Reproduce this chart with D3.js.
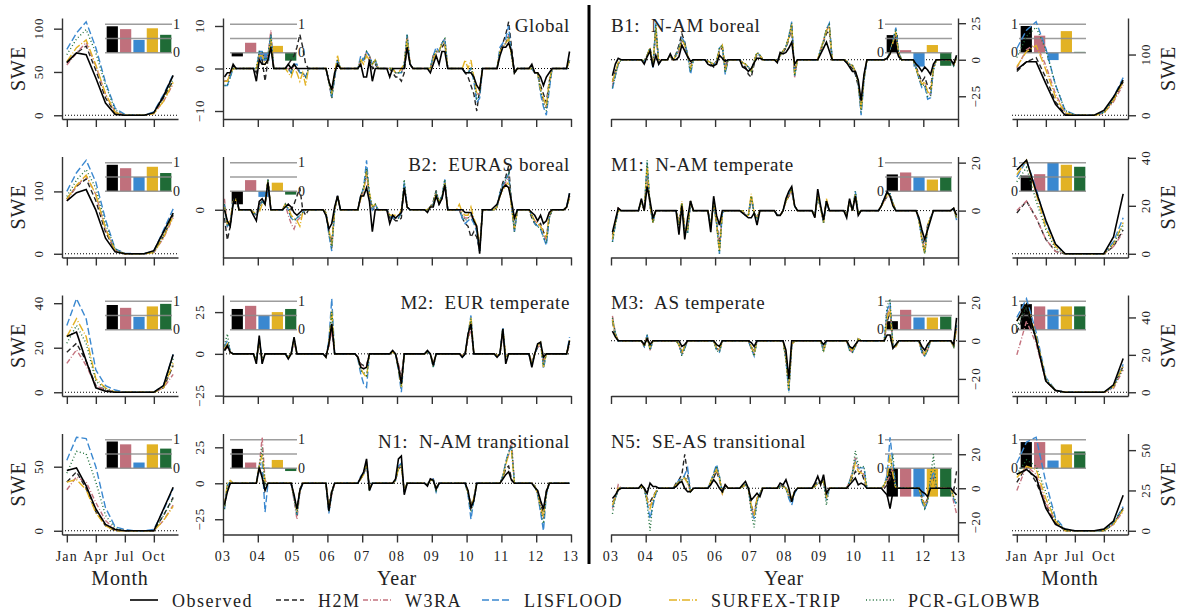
<!DOCTYPE html>
<html>
<head>
<meta charset="utf-8">
<script src="https://d3js.org/d3.v7.min.js"></script>
<style>
body { margin: 0; background: #fff; }
text { font-family: "Liberation Serif", "DejaVu Serif", serif; fill: #222; }
</style>
</head>
<body>
<script>
// series order everywhere: Observed, H2M, W3RA, LISFLOOD, SURFEX-TRIP, PCR-GLOBWB
const seriesNames = ["Observed", "H2M", "W3RA", "LISFLOOD", "SURFEX-TRIP", "PCR-GLOBWB"];
const seriesColors = ["#000000", "#262626", "#c4737f", "#3a88d0", "#e2b224", "#1f6f3a"];
const seriesDash = [null, "5,3", "5,2,1,2", "7,3", "8,2,1,2", "1,2.4"];
const barColors = ["#000000", "#c0707c", "#3a88d0", "#e2b224", "#1f6b36"];

const monthTicks = [1, 4, 7, 10];
const monthLabels = ["Jan", "Apr", "Jul", "Oct"];
const yearTicks = [2003, 2004, 2005, 2006, 2007, 2008, 2009, 2010, 2011, 2012, 2013];
const yearLabels = ["03", "04", "05", "06", "07", "08", "09", "10", "11", "12", "13"];

const regionTitles = ["Global", "B2:  EURAS boreal", "M2:  EUR temperate", "N1:  N-AM transitional",
                      "B1:  N-AM boreal", "M1:  N-AM temperate", "M3:  AS temperate", "N5:  SE-AS transitional"];

// mean seasonal cycle (Jan..Dec)
const seasGlobal = [
  [61,72,70,43,14,1,0,0,0,3,22,46],
  [60,72,80,52,20,3,0,0,0,3,20,40],
  [58,72,84,57,24,4,0,0,0,2,16,36],
  [76,95,108,78,38,8,1,0,0,4,24,47],
  [62,78,87,58,25,3,0,0,0,2,16,38],
  [70,88,99,72,35,6,0,0,0,3,20,42]];
const seasB2 = [
  [85,98,103,70,25,3,0,0,0,5,35,65],
  [88,108,120,85,35,5,0,0,0,3,28,62],
  [85,108,125,95,40,6,0,0,0,2,25,58],
  [100,130,150,115,55,8,1,0,0,4,38,72],
  [88,110,126,95,40,5,0,0,0,2,27,60],
  [92,118,135,105,48,8,0,0,0,3,30,65]];
const seasM2 = [
  [25,27,14,2,0.5,0,0,0,0,0,3,17],
  [18,22,14,3,1,0,0,0,0,0,2,12],
  [13,19,12,3,1,0,0,0,0,0,2,8],
  [30,42,33,10,3,1,0,0,0,0,3,17],
  [25,33,25,6,2,0,0,0,0,0,2,13],
  [22,30,22,5,1.5,0,0,0,0,0,3,15]];
const seasN1 = [
  [47,49,35,17,5,1,0,0,0,0,17,34],
  [38,46,33,15,4,0,0,0,0,0,12,26],
  [32,42,38,22,8,1,0,0,0,0,8,20],
  [55,73,72,50,18,3,1,0,0,1,16,33],
  [38,40,32,14,4,0,0,0,0,0,8,19],
  [45,62,60,38,12,2,0,0,0,0,12,25]];
const seasB1 = [
  [75,88,88,52,18,0,0,0,0,8,30,58],
  [72,88,95,62,22,2,0,0,0,5,25,55],
  [78,108,118,82,35,5,0,0,0,3,22,50],
  [110,140,154,110,50,8,1,0,0,5,30,62],
  [80,105,115,75,30,4,0,0,0,3,25,55],
  [95,130,145,108,50,8,0,0,0,4,27,58]];
const seasM1 = [
  [35,39,26,14,4,0,0,0,0,0,7,25],
  [17,22,15,6,1,0,0,0,0,0,3,10],
  [18,22,15,6,1,0,0,0,0,0,3,9],
  [32,39,27,13,4,0,0,0,0,0,5,15],
  [33,39,25,11,3,0,0,0,0,0,4,13],
  [30,36,22,10,2,0,0,0,0,0,4,12]];
const seasM3 = [
  [38,47,28,6,1,0,0,0,0,0,4,18],
  [32,45,28,6,1,0,0,0,0,0,3,14],
  [20,38,26,6,1,0,0,0,0,0,2,12],
  [40,50,32,8,1,0,0,0,0,0,3,15],
  [38,47,30,7,1,0,0,0,0,0,3,14],
  [35,46,29,7,1,0,0,0,0,0,3,13]];
const seasN5 = [
  [35,38,33,14,4,1,0,0,0,1,6,22],
  [30,40,30,16,5,0,0,0,0,0,4,14],
  [25,40,35,17,6,0,0,0,0,0,4,12],
  [42,55,58,30,8,1,0,0,0,0,5,15],
  [33,40,38,20,6,0,0,0,0,0,4,13],
  [35,44,40,24,7,0,0,0,0,0,5,14]];

// monthly anomalies Jan 2003 .. Dec 2012
const tsGlobal = [
  [-2,-1,-1,1,0,0,0,0,0,0,0,-3, 2,1,1,2,5,0,0,0,0,0,1,0, 1,0,0,0,0,0,0,0,0,0,0,0, -3,-5,-1,1,0,0,0,0,0,0,0,1, -2,-2,2,-3,0,0,0,0,0,-2,0,0, 0,0,0,5,1,0,0,0,0,0,0,-1, 1,3,1,4,4,0,0,0,0,0,0,-1, -1,-1,-2,-4,-5,0,0,0,0,0,0,3, 5,5,6,4,-1,0,0,0,0,0,1,-1, -1,-2,-4,-2,-1,0,0,0,0,0,0,4],
  [-3,-3,-1,0,0,0,0,0,0,0,0,-1, 3,2,-3,2,6,0,0,0,0,0,1,2, 3,5,8,5,1,0,0,0,0,0,0,0, -3,-6,-2,2,0,0,0,0,0,0,0,2, 2,3,2,0,1,0,0,0,0,0,-1,-2, -2,-3,-1,6,1,0,0,0,0,0,0,0, 3,4,4,5,6,0,0,0,0,0,0,-1, -2,-4,-6,-10,-5,0,0,0,0,0,0,4, 6,8,11,5,-1,0,0,0,0,0,0,-1, -1,-4,-6,-8,-3,0,0,0,0,0,0,2],
  [-3,-3,-1,0,0,0,0,0,0,0,0,0, 3,4,2,3,9,0,0,0,0,0,0,-1, 1,0,-1,-1,-2,0,0,0,0,0,0,0, -3,-7,-2,2,0,0,0,0,0,0,0,2, 2,4,3,1,2,0,0,0,0,0,0,-1, -1,-1,1,8,1,0,0,0,0,0,0,0, 3,4,4,6,7,0,0,0,0,0,0,-1, -1,0,-2,-6,-6,0,0,0,0,0,0,4, 5,6,8,3,-1,0,0,0,0,0,0,-1, -1,-5,-8,-9,-4,0,0,0,0,0,0,2],
  [-4,-4,-2,0,0,0,0,0,0,0,0,0, 4,4,2,3,8,0,0,0,0,0,0,-1, 1,1,-1,-1,-2,0,0,0,0,0,0,0, -3,-7,-2,2,0,0,0,0,0,0,0,3, 2,4,3,1,2,0,0,0,0,0,0,-1, -1,-1,1,8,1,0,0,0,0,0,0,0, 3,5,4,6,7,0,0,0,0,0,0,-1, -1,0,-3,-8,-7,0,0,0,0,0,0,5, 6,7,10,3,-1,0,0,0,0,0,0,-1, -1,-6,-9,-11,-5,0,0,0,0,0,0,2],
  [-3,-3,-1,0,0,0,0,0,0,0,0,0, 3,3,1,2,7,0,0,0,0,0,-1,-2, 0,-1,-3,-1,-4,0,0,0,0,0,0,0, -3,-6,-1,3,0,0,0,0,0,0,0,2, 1,3,2,1,2,0,0,0,0,0,0,-1, -1,0,1,7,1,0,0,0,0,0,0,0, 2,4,4,6,6,0,0,0,0,0,0,2, 0,2,-2,-6,-5,0,0,0,0,0,0,4, 5,6,7,3,-1,0,0,0,0,0,0,-1, -1,-5,-7,-9,-3,0,0,0,0,0,0,2],
  [-4,-4,-2,0,0,0,0,0,0,0,0,0, 4,4,2,3,8,0,0,0,0,0,0,-1, 1,0,-1,-1,-2,0,0,0,0,0,0,0, -3,-7,-2,2,0,0,0,0,0,0,0,2, 2,4,3,1,2,0,0,0,0,0,0,-1, -1,-1,1,8,1,0,0,0,0,0,0,0, 3,4,4,6,7,0,0,0,0,0,0,-1, -1,0,-2,-7,-6,0,0,0,0,0,0,4, 5,6,8,3,-1,0,0,0,0,0,0,-1, -1,-5,-8,-10,-4,0,0,0,0,0,0,2]];
const tsB2 = [
  [0,-4,-6,2,6,0,0,0,0,0,-2,-4, 3,4,2,10,0,0,0,0,0,1,2,1, -1,-2,-1,0,0,0,0,0,0,0,0,-2, -7,-5,1,5,0,0,0,0,0,0,0,5, 5,8,3,-8,0,0,0,0,0,-5,-2,-3, -2,-1,8,1,0,0,0,0,0,0,-1,1, 1,5,2,4,9,0,0,0,0,0,0,-1, -1,-1,-4,-6,-16,0,0,0,0,1,2,5, 8,9,8,3,-3,0,0,0,0,0,-1,-2, -4,-2,-5,-4,-1,0,0,0,0,0,1,6],
  [-3,-11,-6,3,5,0,0,0,0,0,-1,-2, 2,3,2,11,0,0,0,0,0,1,2,0, 2,5,8,0,-2,0,0,0,0,0,0,-1, -8,-12,0,5,0,0,0,0,0,0,0,5, 8,14,5,0,1,0,0,0,0,-3,-3,-4, -4,-3,9,1,0,0,0,0,0,0,0,1, 3,7,2,4,10,0,0,0,0,0,-3,-5, -6,-10,-8,-10,-15,0,0,0,0,0,1,6, 10,12,16,2,-7,0,0,0,0,0,-3,-5, -6,-5,-8,-10,-3,0,0,0,0,0,1,5],
  [4,-6,-4,3,4,0,0,0,0,0,-1,-2, 1,3,2,10,0,0,0,0,0,2,-2,-5, -7,-4,-3,-1,0,0,0,0,0,0,0,-1, -8,-14,0,5,0,0,0,0,0,0,0,4, 7,13,4,0,2,0,0,0,0,-2,-3,-3, -3,-1,9,1,0,0,0,0,0,0,0,1, 2,6,3,4,10,0,0,0,0,0,-2,-3, -3,-2,-4,-7,-14,0,0,0,0,0,1,5, 8,10,12,1,-8,0,0,0,0,0,-2,-4, -5,-6,-9,-11,-2,0,0,0,0,0,1,5],
  [2,-6,-5,3,5,0,0,0,0,0,-1,-2, 1,3,2,11,0,0,0,0,0,2,0,-3, -4,-3,-2,-1,0,0,0,0,0,0,0,-1, -9,-15,0,5,0,0,0,0,0,0,0,5, 8,18,5,0,2,0,0,0,0,-2,-3,-3, -3,-1,10,1,0,0,0,0,0,0,0,1, 2,6,3,5,11,0,0,0,0,0,-3,-5, -4,-3,-5,-8,-15,0,0,0,0,0,1,6, 9,11,13,2,-8,0,0,0,0,0,-2,-5, -6,-7,-10,-13,-3,0,0,0,0,0,1,6],
  [1,-5,-4,3,4,0,0,0,0,0,-1,-1, -1,2,2,11,0,0,0,0,0,2,1,-2, -3,-4,-6,-1,0,0,0,0,0,0,0,-1, -7,-13,0,5,0,0,0,0,0,0,0,4, 7,14,6,1,2,0,0,0,0,-2,-2,-2, -2,0,8,1,0,0,0,0,0,0,0,1, 2,6,3,4,10,0,0,0,0,2,-1,-2, -2,1,-3,-6,-14,0,0,0,0,0,1,5, 7,9,10,1,-7,0,0,0,0,0,-2,-4, -5,-6,-8,-10,-2,0,0,0,0,0,1,4],
  [2,-6,-5,3,5,0,0,0,0,0,-1,-2, 1,3,2,11,0,0,0,0,0,2,0,-3, -4,-3,-2,-1,0,0,0,0,0,0,0,-1, -8,-14,0,5,0,0,0,0,0,0,0,5, 8,15,6,1,2,0,0,0,0,-2,-3,-3, -3,-1,11,1,0,0,0,0,0,0,0,1, 2,7,3,5,11,0,0,0,0,0,-2,-4, -3,-2,-4,-7,-15,0,0,0,0,0,1,6, 9,11,13,2,-8,0,0,0,0,0,-2,-5, -6,-7,-10,-12,-3,0,0,0,0,0,1,5]];
const tsM2 = [
  [2,5,1,0,0,0,0,0,0,0,0,-6, 11,-6,0,0,0,0,0,0,0,0,-3,0, 10,0,0,0,0,0,0,0,0,0,0,-2, 6,18,0,0,0,0,0,0,0,0,-2,-8, -9,-8,0,0,0,0,0,0,0,0,2,0, -8,-18,0,0,0,0,0,0,0,0,2,0, -7,0,0,0,0,0,0,0,0,0,-2,0, 12,18,0,0,0,0,0,0,0,0,-2,0, 15,-6,0,0,0,0,0,0,0,0,-8,0, 6,7,-2,0,0,0,0,0,0,0,0,8],
  [2,4,1,0,0,0,0,0,0,0,0,-4, 8,-4,0,0,0,0,0,0,0,0,-2,0, 8,0,0,0,0,0,0,0,0,0,0,-2, 5,16,0,0,0,0,0,0,0,0,-2,-6, -7,-7,0,0,0,0,0,0,0,0,1,0, -7,-15,0,0,0,0,0,0,0,0,1,0, -6,0,0,0,0,0,0,0,0,0,-1,0, 10,16,0,0,0,0,0,0,0,0,-1,0, 13,-2,0,0,0,0,0,0,0,0,-6,0, 4,6,-4,0,0,0,0,0,0,0,0,6],
  [3,4,1,0,0,0,0,0,0,0,0,-3, 7,-3,0,0,0,0,0,0,0,0,-2,0, 7,0,0,0,0,0,0,0,0,0,0,-1, 4,14,0,0,0,0,0,0,0,0,-2,-7, -8,-7,0,0,0,0,0,0,0,0,1,0, -6,-14,0,0,0,0,0,0,0,0,1,0, -5,0,0,0,0,0,0,0,0,0,-1,0, 9,15,0,0,0,0,0,0,0,0,-1,0, 12,-1,0,0,0,0,0,0,0,0,-5,0, 4,5,-5,0,0,0,0,0,0,0,0,6],
  [4,8,2,0,0,0,0,0,0,0,0,-4, 9,-4,0,0,0,0,0,0,0,0,-2,0, 9,0,0,0,0,0,0,0,0,0,0,-2, 8,33,0,0,0,0,0,0,0,0,-3,-12, -18,-20,0,0,0,0,0,0,0,0,1,0, -10,-23,0,0,0,0,0,0,0,0,1,0, -8,0,0,0,0,0,0,0,0,0,-2,0, 12,23,0,0,0,0,0,0,0,0,-2,0, 16,-2,0,0,0,0,0,0,0,0,-7,0, 5,7,-9,0,0,0,0,0,0,0,0,10],
  [3,6,1,0,0,0,0,0,0,0,0,-4, 8,-4,0,0,0,0,0,0,0,0,-2,0, 9,0,0,0,0,0,0,0,0,0,0,-2, 6,26,0,0,0,0,0,0,0,0,-2,-9, -12,-14,0,0,0,0,0,0,0,0,1,0, -9,-20,0,0,0,0,0,0,0,0,1,0, -7,0,0,0,0,0,0,0,0,0,-1,0, 11,22,0,0,0,0,0,0,0,0,-1,0, 15,-2,0,0,0,0,0,0,0,0,-6,0, 5,7,-8,0,0,0,0,0,0,0,0,8],
  [5,12,1,0,0,0,0,0,0,0,0,-3, 8,-3,0,0,0,0,0,0,0,0,-2,0, 9,0,0,0,0,0,0,0,0,0,0,-2, 6,25,0,0,0,0,0,0,0,0,-2,-10, -11,-13,0,0,0,0,0,0,0,0,1,0, -9,-19,0,0,0,0,0,0,0,0,1,0, -8,0,0,0,0,0,0,0,0,0,-2,0, 11,21,0,0,0,0,0,0,0,0,-1,0, 15,-2,0,0,0,0,0,0,0,0,-6,0, 5,6,-7,0,0,0,0,0,0,0,0,7]];
const tsN1 = [
  [-15,-6,0,0,0,0,0,0,0,0,0,0, 11,4,-5,0,0,0,0,0,0,0,0,0, -8,-18,-5,0,0,0,0,0,0,0,0,0, -19,-6,0,0,0,0,0,0,0,0,0,4, 8,17,-5,0,0,0,0,0,0,0,0,3, 17,19,-8,0,0,0,0,0,0,0,-2,3, 2,-4,0,0,0,0,0,0,0,0,0,0, -5,-17,-12,0,0,0,0,0,0,0,0,0, 3,6,8,2,0,0,0,0,0,0,0,-3, -5,-12,-18,-6,0,0,0,0,0,0,0,0],
  [-14,-4,0,0,0,0,0,0,0,0,0,0, 9,8,-2,0,0,0,0,0,0,0,0,0, -10,-18,-4,0,0,0,0,0,0,0,0,0, -16,-5,0,0,0,0,0,0,0,0,0,3, 6,13,-3,0,0,0,0,0,0,0,0,2, 10,12,-5,0,0,0,0,0,0,0,-1,2, 2,-3,0,0,0,0,0,0,0,0,0,0, -6,-15,-10,0,0,0,0,0,0,0,0,0, 4,10,12,3,0,0,0,0,0,0,0,-2, -6,-15,-20,-5,0,0,0,0,0,0,0,0],
  [-17,-3,1,0,0,0,0,0,0,0,0,0, 12,32,2,0,0,0,0,0,0,0,0,0, -12,-25,-6,0,0,0,0,0,0,0,0,0, -20,-8,0,0,0,0,0,0,0,0,0,4, 7,15,-4,0,0,0,0,0,0,0,0,2, 11,13,-6,0,0,0,0,0,0,0,-1,2, 3,-5,0,0,0,0,0,0,0,0,0,0, -7,-18,-12,0,0,0,0,0,0,0,0,0, 5,14,20,30,0,0,0,0,0,0,0,-2, -7,-18,-25,-8,0,0,0,0,0,0,0,0],
  [-18,-2,2,0,0,0,0,0,0,0,0,0, 12,15,-20,0,0,0,0,0,0,0,0,0, -10,-22,-6,0,0,0,0,0,0,0,0,0, -21,-7,0,0,0,0,0,0,0,0,0,5, 7,14,-5,0,0,0,0,0,0,0,0,2, 12,14,-6,0,0,0,0,0,0,0,-1,2, 3,-6,0,0,0,0,0,0,0,0,0,0, -8,-25,-12,0,0,0,0,0,0,0,0,0, 5,15,22,25,0,0,0,0,0,0,0,-2, -8,-20,-33,-8,0,0,0,0,0,0,0,0],
  [-16,0,2,0,0,0,0,0,0,0,0,0, 12,20,1,0,0,0,0,0,0,0,0,0, -9,-20,-5,0,0,0,0,0,0,0,0,0, -18,-6,0,0,0,0,0,0,0,0,0,3, 6,13,-4,0,0,0,0,0,0,0,0,2, 10,12,-5,0,0,0,0,0,0,0,-1,2, 2,-4,0,0,0,0,0,0,0,0,0,0, -6,-17,-10,0,0,0,0,0,0,0,0,0, 4,13,20,22,0,0,0,0,0,0,0,-2, -7,-16,-24,-6,0,0,0,0,0,0,0,0],
  [-18,-1,1,0,0,0,0,0,0,0,0,0, 12,25,-2,0,0,0,0,0,0,0,0,0, -10,-22,-5,0,0,0,0,0,0,0,0,0, -20,-7,0,0,0,0,0,0,0,0,0,4, 7,15,-4,0,0,0,0,0,0,0,0,2, 11,13,-6,0,0,0,0,0,0,0,-1,2, 3,-5,0,0,0,0,0,0,0,0,0,0, -7,-20,-12,0,0,0,0,0,0,0,0,0, 5,14,22,26,0,0,0,0,0,0,0,-2, -7,-18,-28,-7,0,0,0,0,0,0,0,0]];
const tsB1 = [
  [-11,-3,1,0,0,0,0,0,0,0,0,-3, 2,6,-5,3,-3,0,0,0,4,0,0,2, 10,6,2,-1,0,0,0,0,0,-3,-4,-4, -3,3,1,-1,0,0,0,0,0,-5,-6,-8, -6,-2,1,1,0,0,0,0,0,-2,5,4, 5,8,12,-3,0,0,0,0,0,0,0,0, 4,8,12,6,0,0,0,0,0,-2,-5,-8, -8,-14,-28,-10,0,0,0,0,0,0,0,1, 4,10,8,2,0,0,0,0,0,-3,-5,-8, -5,-7,-10,-3,0,0,0,0,0,0,-3,3],
  [-15,-8,-3,0,0,0,0,0,0,0,0,-2, 3,8,-3,20,-2,0,0,0,2,0,4,10, 18,12,3,-3,0,0,0,0,0,-2,-3,-5, -2,6,8,-5,0,0,0,0,0,-4,-5,-10, -12,-3,4,3,0,0,0,0,0,-1,3,5, 8,14,22,-8,0,0,0,0,0,0,0,0, 6,12,18,20,0,0,0,0,0,-2,-4,-6, -10,-18,-32,-12,0,0,0,0,0,0,0,1, 5,12,18,4,0,0,0,0,0,-5,-10,-15, -12,-18,-20,-5,0,0,0,0,0,0,-4,2],
  [-18,-10,-3,0,0,0,0,0,0,0,0,-1, 3,7,-4,22,-2,0,0,0,2,0,2,6, 13,10,3,-5,0,0,0,0,0,-1,-2,-3, -1,7,9,-8,0,0,0,0,0,-2,-3,-5, -8,-1,5,3,0,0,0,0,0,-1,3,6, 9,15,24,-12,0,0,0,0,0,0,0,0, 7,13,20,23,0,0,0,0,0,-1,-3,-4, -8,-15,-35,-12,0,0,0,0,0,0,0,1, 4,12,19,4,0,0,0,0,0,-6,-12,-17, -16,-22,-24,-6,0,0,0,0,0,0,-4,2],
  [-20,-11,-3,0,0,0,0,0,0,0,0,-1, 3,8,-6,25,-3,0,0,0,3,0,3,8, 15,12,3,-10,0,0,0,0,0,-1,-2,-3, -1,8,10,-10,0,0,0,0,0,-2,-3,-5, -8,-1,5,3,0,0,0,0,0,-1,3,6, 9,16,26,-11,0,0,0,0,0,0,0,0, 7,13,21,25,0,0,0,0,0,-1,-3,-4, -8,-16,-38,-14,0,0,0,0,0,0,0,1, 5,13,22,5,0,0,0,0,0,-6,-13,-19, -18,-27,-26,-7,0,0,0,0,0,0,-4,2],
  [-15,-9,-2,0,0,0,0,0,0,0,0,-1, 3,8,-4,22,-2,0,0,0,2,0,3,7, 14,10,3,-6,0,0,0,0,0,-1,-2,-3, -1,7,10,-7,0,0,0,0,0,-2,-3,-5, -8,-1,5,3,0,0,0,0,0,-1,3,6, 9,15,24,-10,0,0,0,0,0,0,0,0, 7,13,20,23,0,0,0,0,0,-1,-3,-4, -8,-15,-34,-12,0,0,0,0,0,0,0,1, 4,12,19,4,0,0,0,0,0,-6,-12,-17, -15,-22,-23,-6,0,0,0,0,0,0,-4,2],
  [-19,-11,-3,0,0,0,0,0,0,0,0,-1, 3,8,-5,24,-3,0,0,0,3,0,3,8, 14,11,3,-8,0,0,0,0,0,-1,-2,-3, -1,8,10,-9,0,0,0,0,0,-2,-3,-5, -8,-1,5,3,0,0,0,0,0,-1,3,6, 9,16,25,-11,0,0,0,0,0,0,0,0, 7,13,21,24,0,0,0,0,0,-1,-3,-4, -8,-16,-36,-13,0,0,0,0,0,0,0,1, 5,13,21,5,0,0,0,0,0,-6,-13,-18, -17,-25,-25,-7,0,0,0,0,0,0,-4,2]];
const tsM1 = [
  [-9,-4,1,0,0,0,0,0,0,0,5,0, 10,4,-3,0,0,0,0,0,0,0,0,-10, 2,-12,-3,4,0,0,0,0,0,0,-9,6, -2,-6,0,0,0,0,0,0,0,-1,-2,-3, -3,-1,-6,0,0,0,0,0,0,-2,-2,0, 5,8,10,2,0,0,0,0,0,0,-3,9, 2,-4,4,0,0,0,0,0,0,-3,5,0, 6,-2,0,0,0,0,0,0,0,2,5,8, 6,2,0,0,0,0,0,0,0,0,-3,-8, -12,-8,-4,0,0,0,0,0,0,0,1,-2],
  [-10,-5,1,0,0,0,0,0,0,0,4,0, 15,2,-4,0,0,0,0,0,0,0,0,-6, 3,-8,-8,3,0,0,0,0,0,0,-7,4, -5,-14,-1,0,0,0,0,0,0,-1,-2,-2, 5,-1,-3,0,0,0,0,0,0,-2,-2,0, 4,6,8,2,0,0,0,0,0,0,-2,6, 1,-4,4,0,0,0,0,0,0,-2,4,0, 6,-1,0,0,0,0,0,0,0,2,4,6, 6,3,0,0,0,0,0,0,0,0,-4,-10, -16,-6,-3,0,0,0,0,0,0,0,1,-3],
  [-12,-5,1,0,0,0,0,0,0,0,4,0, 18,2,-5,0,0,0,0,0,0,0,0,-5, 3,-8,-8,4,0,0,0,0,0,0,-6,3, -5,-16,-1,0,0,0,0,0,0,0,-2,-2, 6,-1,-3,0,0,0,0,0,0,-2,-2,0, 4,6,9,2,0,0,0,0,0,0,-2,6, 1,-5,4,0,0,0,0,0,0,-2,4,0, 7,-1,0,0,0,0,0,0,0,2,4,6, 6,3,0,0,0,0,0,0,0,0,-4,-11, -17,-6,-3,0,0,0,0,0,0,0,1,-3],
  [-13,-6,0,0,0,0,0,0,0,0,4,0, 20,2,-5,0,0,0,0,0,0,0,0,-6, 3,-9,-9,4,0,0,0,0,0,0,-6,3, -5,-18,-1,0,0,0,0,0,0,0,-2,-2, 6,-1,-3,0,0,0,0,0,0,-2,-2,0, 4,7,9,2,0,0,0,0,0,0,-2,6, 1,-5,4,0,0,0,0,0,0,-2,4,0, 8,-1,0,0,0,0,0,0,0,2,5,7, 7,3,0,0,0,0,0,0,0,0,-4,-12, -18,-7,-3,0,0,0,0,0,0,0,1,-4],
  [-12,-5,0,0,0,0,0,0,0,0,4,0, 19,2,-5,0,0,0,0,0,0,0,0,-6, 4,-8,-8,4,0,0,0,0,0,0,-6,3, -5,-17,-1,0,0,0,0,0,0,0,-2,-2, 7,-1,-3,0,0,0,0,0,0,-2,-2,0, 4,6,9,2,0,0,0,0,0,0,-2,6, 1,-5,5,0,0,0,0,0,0,-2,4,0, 7,-1,0,0,0,0,0,0,0,2,4,7, 6,3,0,0,0,0,0,0,0,0,-4,-12, -18,-6,-3,0,0,0,0,0,0,0,1,-3],
  [-13,-6,0,0,0,0,0,0,0,0,4,0, 21,2,-5,0,0,0,0,0,0,0,0,-6, 3,-9,-9,4,0,0,0,0,0,0,-6,3, -5,-18,-1,0,0,0,0,0,0,0,-2,-2, 6,-1,-3,0,0,0,0,0,0,-2,-2,0, 4,7,9,2,0,0,0,0,0,0,-2,6, 1,-5,4,0,0,0,0,0,0,-2,4,0, 8,-1,0,0,0,0,0,0,0,2,5,7, 7,3,0,0,0,0,0,0,0,0,-4,-12, -18,-7,-3,0,0,0,0,0,0,0,1,-3]];
const tsM3 = [
  [5,2,0,0,0,0,0,0,0,0,0,-2, 1,-2,0,0,0,0,0,0,0,0,0,0, -3,-2,0,0,0,0,0,0,0,0,0,0, -2,-3,0,0,0,0,0,0,0,0,0,0, -1,-3,0,0,0,0,0,0,0,0,0,0, -5,-20,0,0,0,0,0,0,0,0,0,0, 0,-2,0,0,0,0,0,0,0,0,-3,-4, -2,0,0,0,0,0,0,0,0,0,0,3, 3,-4,-2,0,0,0,0,0,0,0,0,-3, -5,-2,0,0,0,0,0,0,0,0,-2,12],
  [10,3,0,0,0,0,0,0,0,0,0,-3, 2,-4,0,0,0,0,0,0,0,0,0,-2, -6,-3,0,0,0,0,0,0,0,0,0,0, -4,-5,0,0,0,0,0,0,0,0,0,0, -3,-6,0,0,0,0,0,0,0,0,0,0, -8,-24,-2,0,0,0,0,0,0,0,0,0, 0,-4,0,0,0,0,0,0,0,0,-4,-5, -3,1,0,0,0,0,0,0,0,0,0,10, 15,-3,-3,0,0,0,0,0,0,0,0,-5, -7,-4,0,0,0,0,0,0,0,0,-3,8],
  [13,4,0,0,0,0,0,0,0,0,0,-3, 3,-5,0,0,0,0,0,0,0,0,0,-2, -7,-3,0,0,0,0,0,0,0,0,0,0, -4,-5,0,0,0,0,0,0,0,0,0,0, -4,-7,0,0,0,0,0,0,0,0,0,0, -10,-26,-2,0,0,0,0,0,0,0,0,0, 0,-5,0,0,0,0,0,0,0,0,-5,-6, -3,1,0,0,0,0,0,0,0,0,0,14, 18,-3,-3,0,0,0,0,0,0,0,0,-6, -8,-5,0,0,0,0,0,0,0,0,-3,7],
  [11,4,0,0,0,0,0,0,0,0,0,-3, 3,-5,0,0,0,0,0,0,0,0,0,-2, -7,-4,0,0,0,0,0,0,0,0,0,0, -5,-6,0,0,0,0,0,0,0,0,0,0, -4,-8,0,0,0,0,0,0,0,0,0,0, -10,-27,-2,0,0,0,0,0,0,0,0,0, 0,-5,0,0,0,0,0,0,0,0,-5,-6, -3,1,0,0,0,0,0,0,0,0,0,16, 20,-3,-3,0,0,0,0,0,0,0,0,-6, -8,-5,0,0,0,0,0,0,0,0,-3,8],
  [11,3,0,0,0,0,0,0,0,0,0,-3, 2,-4,0,0,0,0,0,0,0,0,0,-2, -6,-3,0,0,0,0,0,0,0,0,0,0, -4,-5,0,0,0,0,0,0,0,0,0,0, -3,-7,0,0,0,0,0,0,0,0,0,0, -9,-25,-2,0,0,0,0,0,0,0,0,0, 0,-5,0,0,0,0,0,0,0,0,-4,-5, -3,1,0,0,0,0,0,0,0,0,0,12, 17,-3,-3,0,0,0,0,0,0,0,0,-5, -7,-4,0,0,0,0,0,0,0,0,-3,7],
  [12,4,0,0,0,0,0,0,0,0,0,-3, 3,-5,0,0,0,0,0,0,0,0,0,-2, -8,-4,0,0,0,0,0,0,0,0,0,0, -5,-6,0,0,0,0,0,0,0,0,0,0, -4,-8,0,0,0,0,0,0,0,0,0,0, -10,-27,-2,0,0,0,0,0,0,0,0,0, 0,-6,0,0,0,0,0,0,0,0,-5,-6, -3,1,0,0,0,0,0,0,0,0,0,18, 22,-3,-3,0,0,0,0,0,0,0,0,-6, -8,-5,0,0,0,0,0,0,0,0,-3,9]];
const tsN5 = [
  [-6,-4,-1,0,0,0,0,0,0,0,2,0, -3,3,1,1,0,0,0,0,0,0,1,3, 4,0,-2,-2,0,0,0,0,0,0,2,5, 3,0,-2,2,0,0,0,0,0,2,4,0, -7,-5,-3,-5,0,0,0,0,0,0,3,2, 5,0,-8,-2,0,0,0,0,0,0,3,7, 2,8,-3,0,0,0,0,0,0,0,2,4, 6,2,3,2,0,0,0,0,0,0,-2,-4, -12,-2,0,0,0,0,0,0,0,0,0,-2, -3,-5,0,0,0,0,0,0,0,0,-2,-4],
  [-8,-6,-1,0,0,0,0,0,0,0,1,0, -6,-8,-5,-2,0,0,0,0,0,0,3,5, 8,20,8,-2,0,0,0,0,0,0,3,6, 10,5,-2,2,0,0,0,0,0,1,2,0, -10,-15,-6,-3,0,0,0,0,0,0,2,1, 1,-4,-6,-2,0,0,0,0,0,0,2,4, 4,5,-5,0,0,0,0,0,0,0,3,6, 10,8,10,5,0,0,0,0,0,0,0,2, 5,10,0,0,0,0,0,0,0,0,0,-5, -10,-6,2,6,0,0,0,0,0,0,-2,10],
  [-12,-5,2,0,0,0,0,0,0,0,1,0, -7,-10,-8,-3,0,0,0,0,0,0,2,4, 5,6,3,-2,0,0,0,0,0,0,4,8, 12,6,-3,2,0,0,0,0,0,1,2,0, -12,-16,-6,-3,0,0,0,0,0,0,1,1, 0,-5,-7,-2,0,0,0,0,0,0,1,3, 3,4,-6,0,0,0,0,0,0,0,4,10, 18,12,10,8,0,0,0,0,0,0,1,4, 8,12,0,0,0,0,0,0,0,0,0,-6, -11,-7,3,8,0,0,0,0,0,0,-8,-15],
  [-11,-6,0,0,0,0,0,0,0,0,1,0, -8,-18,-10,-3,0,0,0,0,0,0,2,5, 5,8,12,-2,0,0,0,0,0,0,4,9, 14,7,-3,2,0,0,0,0,0,1,2,0, -12,-18,-8,-3,0,0,0,0,0,0,1,1, 0,-6,-10,-3,0,0,0,0,0,0,1,3, 3,4,-7,0,0,0,0,0,0,0,4,9, 16,12,12,12,0,0,0,0,0,0,2,8, 30,15,0,0,0,0,0,0,0,0,0,-8, -12,-8,3,10,0,0,0,0,0,0,-6,-10],
  [-10,-5,0,0,0,0,0,0,0,0,1,0, -7,-12,-6,-2,0,0,0,0,0,0,2,4, 5,6,3,-2,0,0,0,0,0,0,4,8, 11,6,-3,2,0,0,0,0,0,1,2,0, -10,-16,-6,-3,0,0,0,0,0,0,1,1, 0,-4,-6,-2,0,0,0,0,0,0,1,3, 3,4,-5,0,0,0,0,0,0,0,3,8, 15,10,9,8,0,0,0,0,0,0,2,6, 20,8,0,0,0,0,0,0,0,0,0,-6, -10,-6,2,7,0,0,0,0,0,0,-5,-8],
  [-15,-6,0,0,0,0,0,0,0,0,1,0, -9,-25,-8,-3,0,0,0,0,0,0,2,4, 5,7,4,-2,0,0,0,0,0,0,4,8, 13,7,-3,2,0,0,0,0,0,1,2,0, -14,-23,-8,-3,0,0,0,0,0,0,1,1, 0,-5,-8,-2,0,0,0,0,0,0,1,3, 3,4,-10,0,0,0,0,0,0,0,4,9, 22,14,12,13,0,0,0,0,0,0,2,6, 10,20,0,0,0,0,0,0,0,0,0,-7, -12,-8,6,20,0,0,0,0,0,0,-5,-9]];

// inset bars, one per series (Observed first)
const seasBars = [
  [0.93, 0.83, 0.45, 0.86, 0.63],
  [0.93, 0.81, 0.50, 0.86, 0.64],
  [0.87, 0.77, 0.45, 0.82, 0.91],
  [0.94, 0.84, 0.20, 0.84, 0.69],
  [0.94, 0.60, -0.26, 0.76, 0.03],
  [0.55, 0.60, 1.00, 0.93, 0.86],
  [0.90, 0.82, 0.71, 0.82, 0.82],
  [0.92, 0.92, 0.27, 0.84, 0.59]];
const tsBars = [
  [-0.13, 0.35, -0.28, 0.24, -0.28],
  [-0.46, 0.39, -0.20, 0.30, -0.12],
  [0.73, 0.84, 0.50, 0.62, 0.73],
  [0.68, 0.20, 0.02, 0.29, -0.10],
  [0.62, 0.09, -0.49, 0.27, -0.46],
  [0.59, 0.66, 0.49, 0.41, 0.49],
  [0.30, 0.70, 0.43, 0.43, 0.46],
  [-1, -1, -1, -1, -1]];

const seasTicks = [[0,50,100],[0,100],[0,20,40],[0,50],[0,100],[0,20,40],[0,20,40],[0,25,50]];
const tsTicks = [[-10,0,10],[-20,0,20],[-25,0,25],[-25,0,25],[-25,0,25],[-20,0,20],[-20,0,20],[-20,0,20]];

const seasData = [seasGlobal, seasB2, seasM2, seasN1, seasB1, seasM1, seasM3, seasN5];
const tsData = [tsGlobal, tsB2, tsM2, tsN1, tsB1, tsM1, tsM3, tsN5];

// ---------------------------------------------------------------
const W = 1179, H = 612;
const rowTop = [18, 156.5, 295, 433.5];
const rowH = 101;
const cols = { seasL: [62, 178], tsL: [223, 571], tsR: [611, 958], seasR: [1012, 1128] };
let clipCount = 0;

const svg = d3.select("body").append("svg")
    .attr("width", W)
    .attr("height", H);

function padExtent(data) {
    let all = data.flat();
    let lo = d3.min(all), hi = d3.max(all);
    let pad = (hi - lo) * 0.04;
    return [lo - pad, hi + pad];
}

function fmt(v) {
    return v < 0 ? "\u2212" + Math.abs(v) : String(v);
}

// small bar inset, 0..1 with grey guide lines
function drawInset(g, x0, top, vals, labelSide) {
    let w = 67;
    let iy = d3.scaleLinear().domain([0, 1]).range([top + 34.7, top + 6.3]);
    let bx = d3.scaleBand().domain(d3.range(vals.length))
        .range([x0 + 1, x0 + w]).paddingInner(0.16).paddingOuter(0.05);

    g.append("g").selectAll("rect")
        .data(vals)
        .enter().append("rect")
        .attr("x", (d, i) => bx(i))
        .attr("width", bx.bandwidth())
        .attr("y", d => Math.min(iy(d), iy(0)))
        .attr("height", d => Math.abs(iy(d) - iy(0)))
        .attr("fill", (d, i) => barColors[i]);

    [0, 0.5, 1].forEach(v => {
        g.append("line")
            .attr("x1", x0).attr("x2", x0 + w)
            .attr("y1", iy(v)).attr("y2", iy(v))
            .attr("stroke", "#8c8c8c").attr("stroke-opacity", 0.85)
            .attr("stroke-width", 1.5);
    });
    [0, 1].forEach(v => {
        g.append("text")
            .attr("x", labelSide === "right" ? x0 + w + 1 : x0 - 1)
            .attr("y", iy(v) + 4.5)
            .attr("text-anchor", labelSide === "right" ? "start" : "end")
            .attr("font-size", "14px")
            .text(v);
    });
}

function drawPanel(o) {
    let g = svg.append("g");
    let y0 = o.top, y1 = o.top + rowH;
    let x = d3.scaleLinear().domain(o.xDomain).range([o.x0, o.x1]);
    let y = d3.scaleLinear().domain(padExtent(o.data)).range([y1, y0]);

    let id = "clip" + (clipCount++);
    g.append("clipPath").attr("id", id)
        .append("rect")
        .attr("x", o.x0).attr("y", y0)
        .attr("width", o.x1 - o.x0).attr("height", rowH);

    // zero reference
    g.append("line")
        .attr("x1", o.x0).attr("x2", o.x1)
        .attr("y1", y(0)).attr("y2", y(0))
        .attr("stroke", "#000").attr("stroke-width", 1)
        .attr("stroke-dasharray", "1,2");

    drawInset(g, o.insetX, y0, o.bars, o.labelSide);

    let line = d3.line()
        .x((d, i) => x(o.xval(i)))
        .y(d => y(d));
    let lines = g.append("g").attr("clip-path", "url(#" + id + ")");
    [1, 2, 3, 4, 5, 0].forEach(k => {
        lines.append("path")
            .attr("d", line(o.data[k]))
            .attr("fill", "none")
            .attr("stroke", seriesColors[k])
            .attr("stroke-width", k === 0 ? 1.6 : 1.4)
            .attr("stroke-dasharray", seriesDash[k]);
    });

    // y axis
    let ticks = o.yTicks.filter(v => v >= y.domain()[0] && v <= y.domain()[1]);
    let axX = o.axisSide === "left" ? o.x0 : o.x1;
    let yAxis = (o.axisSide === "left" ? d3.axisLeft(y) : d3.axisRight(y))
        .tickValues(ticks).tickSize(8).tickSizeOuter(0).tickFormat("");
    g.append("g").attr("class", "axis")
        .attr("transform", "translate(" + axX + ",0)")
        .call(yAxis);
    ticks.forEach(v => {
        let tx = o.axisSide === "left" ? axX - 19 : axX + 22;
        g.append("text")
            .attr("transform", "translate(" + tx + "," + y(v) + ") rotate(-90)")
            .attr("text-anchor", "middle")
            .attr("font-size", "13px")
            .attr("letter-spacing", "0.8px")
            .text(fmt(v));
    });

    // x axis
    let xAxis = d3.axisBottom(x).tickValues(o.xTicks)
        .tickSize(8).tickSizeOuter(0).tickFormat("");
    g.append("g").attr("class", "axis")
        .attr("transform", "translate(0," + y1 + ")")
        .call(xAxis);
    if (o.showX) {
        o.xTicks.forEach((v, i) => {
            g.append("text")
                .attr("x", x(v)).attr("y", y1 + 26)
                .attr("text-anchor", "middle")
                .attr("font-size", "14px")
                .attr("letter-spacing", "1.2px")
                .text(o.xLabels[i]);
        });
    }

    if (o.title) {
        g.append("text")
            .attr("x", o.titleAnchor === "end" ? o.x1 - 1 : o.x0)
            .attr("y", y0 + 14)
            .attr("text-anchor", o.titleAnchor)
            .attr("font-size", "19px")
            .attr("letter-spacing", "0.6px")
            .style("white-space", "pre")
            .text(o.title);
    }
    if (o.ylabel) {
        g.append("text")
            .attr("transform", "translate(" + o.ylabelX + "," + (y0 + rowH / 2) + ") rotate(-90)")
            .attr("text-anchor", "middle")
            .attr("font-size", "20px")
            .attr("letter-spacing", "1px")
            .text(o.ylabel);
    }
}

for (let p = 0; p < 8; p++) {
    let right = p >= 4;
    let row = p % 4;
    let sc = right ? cols.seasR : cols.seasL;
    let tc = right ? cols.tsR : cols.tsL;

    drawPanel({
        x0: sc[0], x1: sc[1], top: rowTop[row],
        xDomain: [0.5, 12.5], xval: i => i + 1,
        xTicks: monthTicks, xLabels: monthLabels, showX: row === 3,
        data: seasData[p], yTicks: seasTicks[p],
        axisSide: right ? "right" : "left",
        bars: seasBars[p],
        insetX: right ? sc[0] + 7 : sc[1] - 73,
        labelSide: right ? "left" : "right",
        ylabel: "SWE", ylabelX: right ? 1175 : 25
    });

    drawPanel({
        x0: tc[0], x1: tc[1], top: rowTop[row],
        xDomain: [2003, 2013], xval: i => 2003 + (i + 0.5) / 12,
        xTicks: yearTicks, xLabels: yearLabels, showX: row === 3,
        data: tsData[p], yTicks: tsTicks[p],
        axisSide: right ? "right" : "left",
        bars: tsBars[p],
        insetX: right ? tc[1] - 73 : tc[0] + 7,
        labelSide: right ? "left" : "right",
        title: regionTitles[p], titleAnchor: right ? "start" : "end"
    });
}

svg.selectAll(".axis path, .axis line")
    .attr("stroke", "#333")
    .attr("stroke-width", 1.4);

// divider between the two halves
svg.append("line")
    .attr("x1", 589).attr("x2", 589)
    .attr("y1", 5).attr("y2", 564)
    .attr("stroke", "#000").attr("stroke-width", 3);

// axis titles
[[120, "Month"], [397, "Year"], [784, "Year"], [1070, "Month"]].forEach(d => {
    svg.append("text")
        .attr("x", d[0]).attr("y", 585)
        .attr("text-anchor", "middle")
        .attr("font-size", "20px")
        .attr("letter-spacing", "0.8px")
        .text(d[1]);
});

// legend
const legendLineX = [130, 276, 363, 482, 669, 866];
const legendTextX = [172, 318, 405, 524, 711, 908];
seriesNames.forEach((name, k) => {
    svg.append("line")
        .attr("x1", legendLineX[k]).attr("x2", legendLineX[k] + 28)
        .attr("y1", 600).attr("y2", 600)
        .attr("stroke", seriesColors[k])
        .attr("stroke-width", k === 0 ? 1.6 : 1.4)
        .attr("stroke-dasharray", seriesDash[k]);
    svg.append("text")
        .attr("x", legendTextX[k]).attr("y", 607)
        .attr("font-size", "18px")
        .attr("letter-spacing", "1.5px")
        .text(name);
});
</script>
</body>
</html>
